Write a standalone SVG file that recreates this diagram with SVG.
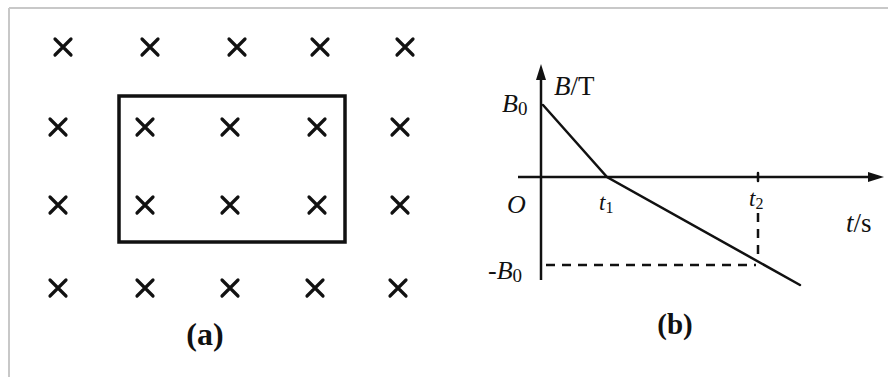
<svg xmlns="http://www.w3.org/2000/svg" xmlns:xlink="http://www.w3.org/1999/xlink" width="888" height="377" viewBox="0 0 888 377">
<style>
.ax{stroke:#111;stroke-width:2.5;fill:none}
.ln{stroke:#111;stroke-width:2.5;fill:none;stroke-linecap:round}
.dash{stroke:#111;stroke-width:2.5;fill:none;stroke-dasharray:9,7}
.lbl{font-family:"Liberation Serif",serif;font-style:italic;fill:#111}
.cap{font-family:"Liberation Serif",serif;font-weight:bold;fill:#111}
.x{stroke:#111;stroke-width:3.2;stroke-linecap:round}
</style>
<defs>
<path id="cr" class="x" d="M-8,-8L8,8M8,-8L-8,8"/>
</defs>
<rect x="0" y="0" width="888" height="377" fill="#fff"/>
<path d="M9,8H888M9,8V377" stroke="#c8c8c8" stroke-width="2" fill="none"/>
<g id="panel-a">
<g id="field">
<use xlink:href="#cr" x="63" y="47"/><use xlink:href="#cr" x="150" y="47"/><use xlink:href="#cr" x="237" y="47"/><use xlink:href="#cr" x="320" y="47"/><use xlink:href="#cr" x="405" y="47"/>
<use xlink:href="#cr" x="58" y="127"/><use xlink:href="#cr" x="145" y="127"/><use xlink:href="#cr" x="230" y="127"/><use xlink:href="#cr" x="317" y="127"/><use xlink:href="#cr" x="400" y="127"/>
<use xlink:href="#cr" x="58" y="205"/><use xlink:href="#cr" x="145" y="205"/><use xlink:href="#cr" x="230" y="205"/><use xlink:href="#cr" x="317" y="205"/><use xlink:href="#cr" x="400" y="205"/>
<use xlink:href="#cr" x="58" y="288"/><use xlink:href="#cr" x="145" y="288"/><use xlink:href="#cr" x="230" y="288"/><use xlink:href="#cr" x="315" y="288"/><use xlink:href="#cr" x="398" y="288"/>
</g>
<rect id="loop" x="119" y="96" width="226" height="146" fill="none" stroke="#111" stroke-width="3.5"/>
<text class="cap" x="205" y="345" text-anchor="middle" font-size="32">(a)</text>
</g>
<g id="panel-b">
<g id="axes">
<path class="ax" d="M541,280V72"/>
<path d="M541,64L536,80H546Z" fill="#111"/>
<path class="ax" d="M518,177H876"/>
<path d="M884,177L868,172V182Z" fill="#111"/>
<path class="ln" d="M758,173V181"/>
</g>
<g id="graph">
<path class="ln" d="M543,105L607,177L800,285"/>
<path class="dash" d="M546,265H756"/>
<path class="dash" d="M758,213V262"/>
</g>
<g id="labels">
<text class="lbl" x="554" y="95" font-size="27">B<tspan font-style="normal">/T</tspan></text>
<text class="lbl" x="502" y="112" font-size="26">B<tspan font-style="normal" font-size="19" dy="3">0</tspan></text>
<text class="lbl" x="507" y="213" font-size="26">O</text>
<text class="lbl" x="599" y="210" font-size="23">t<tspan font-style="normal" font-size="16" dy="3">1</tspan></text>
<text class="lbl" x="488" y="279" font-size="26"><tspan font-style="normal">-</tspan>B<tspan font-style="normal" font-size="19" dy="3">0</tspan></text>
<text class="lbl" x="749" y="206" font-size="23">t<tspan font-style="normal" font-size="16" dy="3">2</tspan></text>
<text class="lbl" x="846" y="232" font-size="27">t<tspan font-style="normal">/s</tspan></text>
<text class="cap" x="675" y="334" text-anchor="middle" font-weight="normal" font-size="29">(b)</text>
</g>
</g>
</svg>
